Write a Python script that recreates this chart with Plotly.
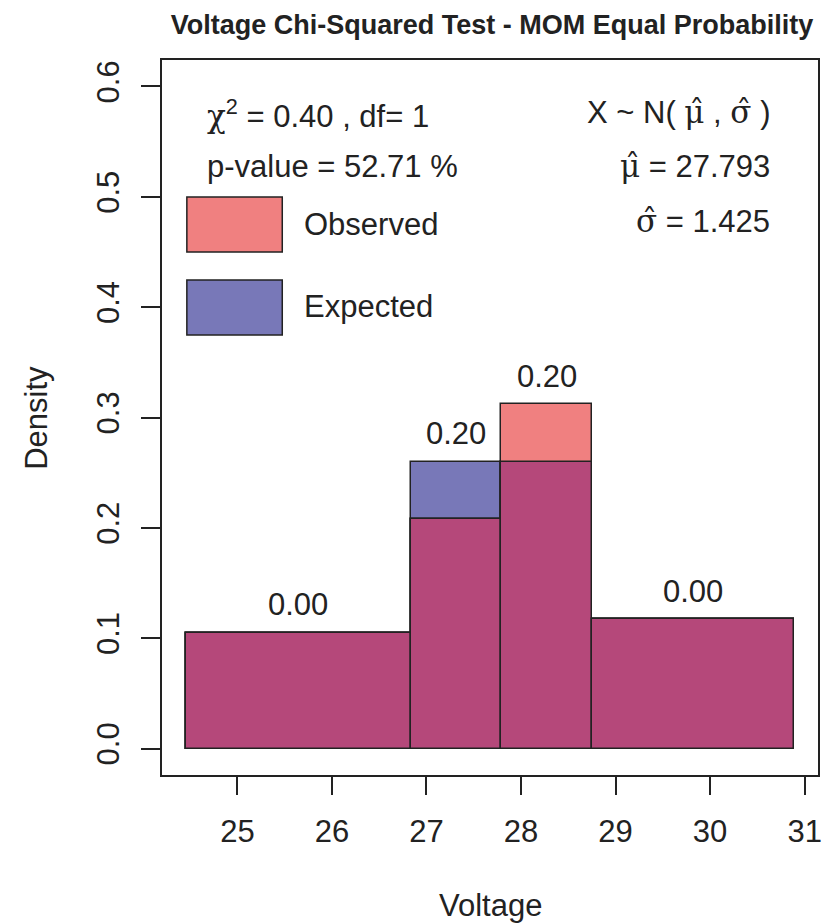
import plotly.graph_objects as go

# ---- data ----
breaks = [24.46, 26.832, 27.793, 28.754, 30.884]
observed_density = [0.105, 0.208, 0.312, 0.117]
expected_density = [0.105, 0.260, 0.260, 0.117]
chisq_labels = ["0.00", "0.20", "0.20", "0.00"]
x_ticks = [25, 26, 27, 28, 29, 30, 31]
y_ticks = [0.0, 0.1, 0.2, 0.3, 0.4, 0.5, 0.6]
y_tick_text = ["0.0", "0.1", "0.2", "0.3", "0.4", "0.5", "0.6"]

mids = [(a + b) / 2 for a, b in zip(breaks[:-1], breaks[1:])]
widths = [b - a for a, b in zip(breaks[:-1], breaks[1:])]
overlap = [min(o, e) for o, e in zip(observed_density, expected_density)]

OBS_COL = "#F08080"
EXP_COL = "#7878B8"
OVL_COL = "#B5487A"
EDGE = dict(color="#222222", width=1.5)
FONT = "Liberation Sans, Arial, sans-serif"

W, H = 829, 924
L, R, T, B = 162, 7, 60, 149
PW, PH = W - L - R, H - T - B


def xp(px):
    return (px - L) / PW


def yp(py):
    return (H - B - py) / PH


def greek(s):
    return "<span style=\"font-family:'DejaVu Serif'\">" + s + "</span>"


MU_HAT = greek("\u03bc\u0302")
SIGMA_HAT = greek("\u03c3\u0302")
CHI = greek("\u03c7")

fig = go.Figure()
fig.add_trace(go.Bar(x=mids, y=expected_density, width=widths,
                     marker=dict(color=EXP_COL, line=EDGE), showlegend=False))
fig.add_trace(go.Bar(x=mids, y=observed_density, width=widths,
                     marker=dict(color=OBS_COL, line=EDGE), showlegend=False))
fig.add_trace(go.Bar(x=mids, y=overlap, width=widths,
                     marker=dict(color=OVL_COL, line=EDGE), showlegend=False))

annotations = []
for m, o, e, lab in zip(mids, observed_density, expected_density, chisq_labels):
    annotations.append(dict(x=m, y=max(o, e), xref="x", yref="y", text=lab,
                            showarrow=False, yanchor="middle", yshift=28,
                            font=dict(size=31, color="#222222", family=FONT)))

txt_font = dict(size=31, color="#222222", family=FONT)
annotations += [
    dict(x=xp(205), y=yp(114), xref="paper", yref="paper", xanchor="left", yanchor="middle",
         text=CHI + "<sup>2</sup> = 0.40 , df= 1", showarrow=False, font=txt_font),
    dict(x=xp(205), y=yp(166), xref="paper", yref="paper", xanchor="left", yanchor="middle",
         text="p-value = 52.71 %", showarrow=False, font=txt_font),
    dict(x=xp(776), y=yp(112), xref="paper", yref="paper", xanchor="right", yanchor="middle",
         text="X ~ N( " + MU_HAT + " , " + SIGMA_HAT + " )", showarrow=False, font=txt_font),
    dict(x=xp(776), y=yp(166), xref="paper", yref="paper", xanchor="right", yanchor="middle",
         text=MU_HAT + " = 27.793", showarrow=False, font=txt_font),
    dict(x=xp(776), y=yp(221), xref="paper", yref="paper", xanchor="right", yanchor="middle",
         text=SIGMA_HAT + " = 1.425", showarrow=False, font=txt_font),
    dict(x=xp(303), y=yp(224), xref="paper", yref="paper", xanchor="left", yanchor="middle",
         text="Observed", showarrow=False, font=txt_font),
    dict(x=xp(303), y=yp(306), xref="paper", yref="paper", xanchor="left", yanchor="middle",
         text="Expected", showarrow=False, font=txt_font),
    dict(x=xp(492), y=yp(905), xref="paper", yref="paper", xanchor="center", yanchor="middle",
         text="Voltage", showarrow=False, font=txt_font),
    dict(x=xp(35), y=yp(418), xref="paper", yref="paper", xanchor="center", yanchor="middle",
         text="Density", textangle=-90, showarrow=False, font=txt_font),
]

shapes = [
    dict(type="rect", xref="paper", yref="paper", x0=xp(187), x1=xp(283), y0=yp(252), y1=yp(197),
         fillcolor=OBS_COL, line=EDGE),
    dict(type="rect", xref="paper", yref="paper", x0=xp(187), x1=xp(283), y0=yp(335), y1=yp(280),
         fillcolor=EXP_COL, line=EDGE),
]

fig.update_layout(
    width=W, height=H,
    margin=dict(l=L, r=R, t=T, b=B, pad=0),
    paper_bgcolor="white", plot_bgcolor="white",
    barmode="overlay", bargap=0,
    title=dict(text="<b>Voltage Chi-Squared Test - MOM Equal Probability</b>",
               xref="container", x=492 / W, xanchor="center", y=1 - 25 / H, yanchor="middle",
               font=dict(size=27, color="#222222", family=FONT)),
    annotations=annotations, shapes=shapes,
    font=dict(family=FONT, color="#222222"),
)
fig.update_xaxes(range=[24.2025, 31.1415], tickvals=x_ticks, ticks="outside", ticklen=18,
                 tickwidth=1.5, tickcolor="#222222", showline=True, linecolor="#222222",
                 linewidth=1.5, mirror=True, showgrid=False, zeroline=False,
                 tickfont=dict(size=31, color="#222222", family=FONT), ticklabelstandoff=10)
fig.update_yaxes(range=[-0.024, 0.624], tickvals=y_ticks, ticktext=y_tick_text,
                 ticks="outside", ticklen=19, tickwidth=1.5, tickcolor="#222222",
                 showline=True, linecolor="#222222", linewidth=1.5, mirror=True,
                 showgrid=False, zeroline=False, tickangle=-90,
                 tickfont=dict(size=31, color="#222222", family=FONT), ticklabelstandoff=10)

fig.write_html("out.html")
